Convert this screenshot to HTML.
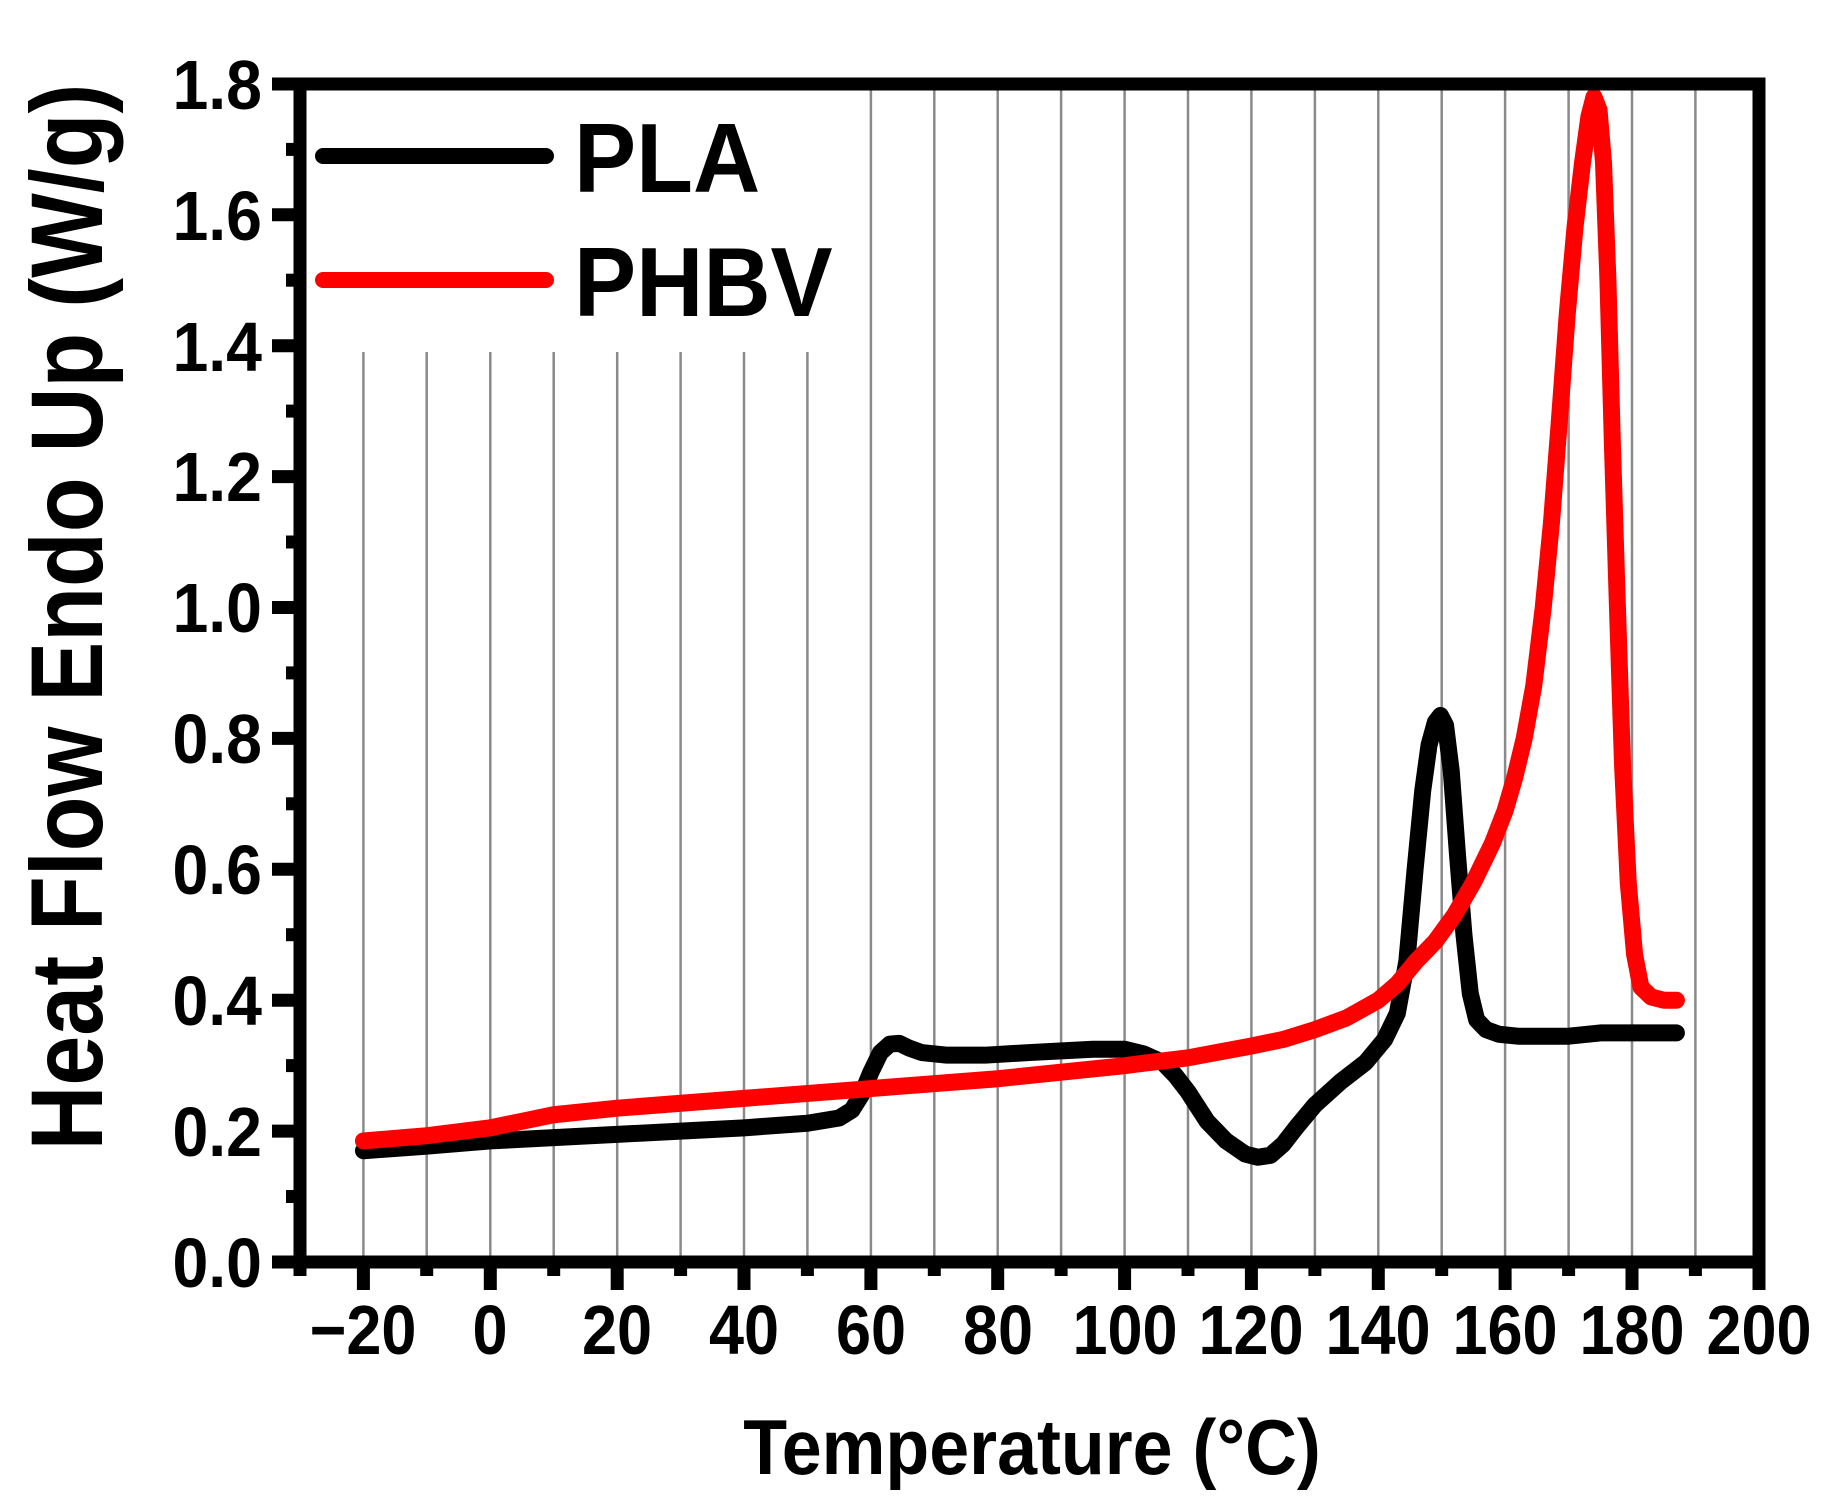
<!DOCTYPE html>
<html><head><meta charset="utf-8"><style>
html,body{margin:0;padding:0;background:#fff;}
svg{display:block;}
text{font-family:"Liberation Sans",Arial,sans-serif;font-weight:bold;fill:#000;}
</style></head><body>
<svg width="1833" height="1509" viewBox="0 0 1833 1509" xmlns="http://www.w3.org/2000/svg">
<g stroke="#8a8a8a" stroke-width="2.5">
<line x1="363.4" y1="352" x2="363.4" y2="1256"/>
<line x1="426.7" y1="352" x2="426.7" y2="1256"/>
<line x1="490.3" y1="352" x2="490.3" y2="1256"/>
<line x1="553.7" y1="352" x2="553.7" y2="1256"/>
<line x1="617.2" y1="352" x2="617.2" y2="1256"/>
<line x1="680.6" y1="352" x2="680.6" y2="1256"/>
<line x1="744.0" y1="352" x2="744.0" y2="1256"/>
<line x1="807.4" y1="352" x2="807.4" y2="1256"/>
<line x1="870.9" y1="90" x2="870.9" y2="1256"/>
<line x1="934.3" y1="90" x2="934.3" y2="1256"/>
<line x1="997.7" y1="90" x2="997.7" y2="1256"/>
<line x1="1061.1" y1="90" x2="1061.1" y2="1256"/>
<line x1="1124.6" y1="90" x2="1124.6" y2="1256"/>
<line x1="1188.0" y1="90" x2="1188.0" y2="1256"/>
<line x1="1251.4" y1="90" x2="1251.4" y2="1256"/>
<line x1="1314.9" y1="90" x2="1314.9" y2="1256"/>
<line x1="1378.3" y1="90" x2="1378.3" y2="1256"/>
<line x1="1441.7" y1="90" x2="1441.7" y2="1256"/>
<line x1="1505.1" y1="90" x2="1505.1" y2="1256"/>
<line x1="1568.6" y1="90" x2="1568.6" y2="1256"/>
<line x1="1632.0" y1="90" x2="1632.0" y2="1256"/>
<line x1="1695.4" y1="90" x2="1695.4" y2="1256"/>
</g>
<g stroke="#000" stroke-width="13">
<line x1="363.4" y1="1262" x2="363.4" y2="1290"/>
<line x1="490.3" y1="1262" x2="490.3" y2="1290"/>
<line x1="617.2" y1="1262" x2="617.2" y2="1290"/>
<line x1="744.0" y1="1262" x2="744.0" y2="1290"/>
<line x1="870.9" y1="1262" x2="870.9" y2="1290"/>
<line x1="997.7" y1="1262" x2="997.7" y2="1290"/>
<line x1="1124.6" y1="1262" x2="1124.6" y2="1290"/>
<line x1="1251.4" y1="1262" x2="1251.4" y2="1290"/>
<line x1="1378.3" y1="1262" x2="1378.3" y2="1290"/>
<line x1="1505.1" y1="1262" x2="1505.1" y2="1290"/>
<line x1="1632.0" y1="1262" x2="1632.0" y2="1290"/>
<line x1="1759" y1="1262" x2="1759" y2="1290"/>
<line x1="300" y1="1262" x2="300" y2="1276"/>
<line x1="426.7" y1="1262" x2="426.7" y2="1276"/>
<line x1="553.7" y1="1262" x2="553.7" y2="1276"/>
<line x1="680.6" y1="1262" x2="680.6" y2="1276"/>
<line x1="807.4" y1="1262" x2="807.4" y2="1276"/>
<line x1="934.3" y1="1262" x2="934.3" y2="1276"/>
<line x1="1061.1" y1="1262" x2="1061.1" y2="1276"/>
<line x1="1188.0" y1="1262" x2="1188.0" y2="1276"/>
<line x1="1314.9" y1="1262" x2="1314.9" y2="1276"/>
<line x1="1441.7" y1="1262" x2="1441.7" y2="1276"/>
<line x1="1568.6" y1="1262" x2="1568.6" y2="1276"/>
<line x1="1695.4" y1="1262" x2="1695.4" y2="1276"/>
<line x1="272" y1="1262" x2="300" y2="1262"/>
<line x1="272" y1="1131.1" x2="300" y2="1131.1"/>
<line x1="272" y1="1000.2" x2="300" y2="1000.2"/>
<line x1="272" y1="869.3" x2="300" y2="869.3"/>
<line x1="272" y1="738.4" x2="300" y2="738.4"/>
<line x1="272" y1="607.5" x2="300" y2="607.5"/>
<line x1="272" y1="476.6" x2="300" y2="476.6"/>
<line x1="272" y1="345.7" x2="300" y2="345.7"/>
<line x1="272" y1="214.8" x2="300" y2="214.8"/>
<line x1="272" y1="84" x2="300" y2="84"/>
<line x1="286" y1="1196.5" x2="300" y2="1196.5"/>
<line x1="286" y1="1065.6" x2="300" y2="1065.6"/>
<line x1="286" y1="934.7" x2="300" y2="934.7"/>
<line x1="286" y1="803.8" x2="300" y2="803.8"/>
<line x1="286" y1="672.9" x2="300" y2="672.9"/>
<line x1="286" y1="542.0" x2="300" y2="542.0"/>
<line x1="286" y1="411.1" x2="300" y2="411.1"/>
<line x1="286" y1="280.2" x2="300" y2="280.2"/>
<line x1="286" y1="149.4" x2="300" y2="149.4"/>
</g>
<g transform="translate(490.3,1262) scale(6.343,-654.5)" fill="none" stroke-linecap="round" stroke-linejoin="round">
<polyline vector-effect="non-scaling-stroke" stroke="#000" stroke-width="17" points="-20,0.17 -10,0.177 0,0.185 10,0.19 20,0.195 30,0.2 40,0.205 50,0.212 55,0.22 57,0.232 58.5,0.255 60,0.29 61.5,0.32 63,0.333 64.5,0.334 66,0.327 68,0.32 72,0.316 78,0.316 85,0.32 95,0.325 100,0.325 103,0.318 106,0.305 108,0.285 110,0.26 113,0.215 116,0.185 119,0.165 121,0.16 123,0.163 125,0.18 127,0.205 130,0.24 134,0.275 138,0.305 141,0.34 143,0.38 144.5,0.46 145.8,0.6 147,0.72 148,0.79 149,0.825 149.8,0.835 150.6,0.82 151.5,0.75 152.5,0.62 153.5,0.5 154.5,0.41 155.5,0.37 157,0.355 159,0.348 162,0.345 170,0.345 175,0.35 187,0.35"/>
<polyline vector-effect="non-scaling-stroke" stroke="#ff0000" stroke-width="17" points="-20,0.185 -10,0.193 0,0.205 5,0.215 10,0.225 20,0.235 40,0.25 60,0.265 80,0.28 100,0.3 110,0.312 120,0.33 125,0.34 130,0.355 135,0.373 140,0.4 143,0.425 146,0.46 149,0.49 152,0.53 155,0.58 158,0.64 160,0.69 161.5,0.74 163,0.8 164.5,0.88 166,1.0 167.3,1.13 168.5,1.28 169.8,1.45 171,1.58 172.2,1.68 173.2,1.75 174,1.78 174.8,1.76 175.5,1.68 176.2,1.5 176.9,1.25 177.7,1.0 178.5,0.76 179.4,0.58 180.4,0.47 181.4,0.42 183,0.405 185,0.4 187,0.4"/>
</g>
<rect x="300" y="84" width="1459" height="1178" fill="none" stroke="#000" stroke-width="13"/>
<g font-size="70" text-anchor="end">
<text transform="translate(262,1287) scale(0.92,1)">0.0</text>
<text transform="translate(262,1156) scale(0.92,1)">0.2</text>
<text transform="translate(262,1025) scale(0.92,1)">0.4</text>
<text transform="translate(262,894) scale(0.92,1)">0.6</text>
<text transform="translate(262,763) scale(0.92,1)">0.8</text>
<text transform="translate(262,632) scale(0.92,1)">1.0</text>
<text transform="translate(262,501) scale(0.92,1)">1.2</text>
<text transform="translate(262,371) scale(0.92,1)">1.4</text>
<text transform="translate(262,240) scale(0.92,1)">1.6</text>
<text transform="translate(262,109) scale(0.92,1)">1.8</text>
</g>
<g font-size="70" text-anchor="middle">
<text transform="translate(363,1354) scale(0.9,1)">−20</text>
<text transform="translate(490,1354) scale(0.9,1)">0</text>
<text transform="translate(617,1354) scale(0.9,1)">20</text>
<text transform="translate(744,1354) scale(0.9,1)">40</text>
<text transform="translate(871,1354) scale(0.9,1)">60</text>
<text transform="translate(998,1354) scale(0.9,1)">80</text>
<text transform="translate(1125,1354) scale(0.9,1)">100</text>
<text transform="translate(1251,1354) scale(0.9,1)">120</text>
<text transform="translate(1378,1354) scale(0.9,1)">140</text>
<text transform="translate(1505,1354) scale(0.9,1)">160</text>
<text transform="translate(1632,1354) scale(0.9,1)">180</text>
<text transform="translate(1759,1354) scale(0.9,1)">200</text>
</g>
<text transform="translate(1032,1474) scale(0.92,1)" font-size="78" text-anchor="middle">Temperature (°C)</text>
<text transform="translate(102,617) rotate(-90) scale(0.88,1)" font-size="102" text-anchor="middle">Heat Flow Endo Up (W/g)</text>
<line x1="323" y1="156" x2="546" y2="156" stroke="#000" stroke-width="16" stroke-linecap="round"/>
<line x1="323" y1="280" x2="546" y2="280" stroke="#ff0000" stroke-width="16" stroke-linecap="round"/>
<text transform="translate(574,192) scale(0.95,1)" font-size="98">PLA</text>
<text transform="translate(574,316) scale(0.95,1)" font-size="98">PHBV</text>
</svg>
</body></html>
